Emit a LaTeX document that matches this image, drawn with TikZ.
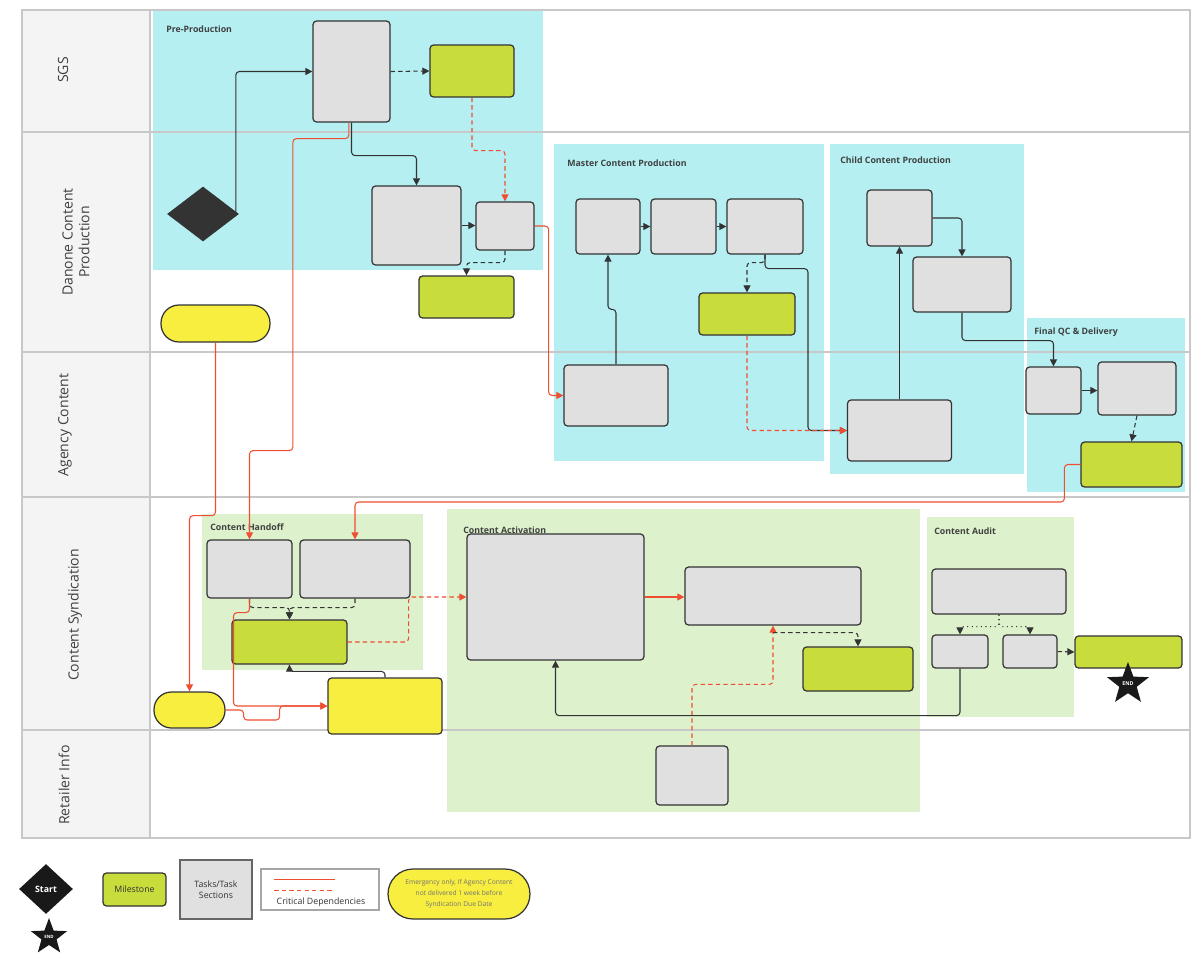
\documentclass[tikz,border=0pt]{standalone}
\usepackage{fontspec}
\setmainfont{Open Sans}
\usetikzlibrary{arrows.meta,shapes.geometric}
\definecolor{prebg}{HTML}{B5EFF2}
\definecolor{synbg}{HTML}{DDF1CC}
\definecolor{taskfill}{HTML}{E0E0E0}
\definecolor{milefill}{HTML}{C8DC3C}
\definecolor{emergfill}{HTML}{F8EE40}
\definecolor{critred}{HTML}{F04E30}
\definecolor{laneline}{HTML}{C8C8C8}
\definecolor{headfill}{HTML}{F4F4F4}

\tikzset{
  wh/.style 2 args={minimum width=#1cm, minimum height=#2cm},
  task/.style={draw=black!80, fill=taskfill, rounded corners=2pt, line width=0.7pt, inner sep=0},
  mile/.style={task, fill=milefill},
  emerg/.style={draw=black!80, fill=emergfill, line width=0.7pt, inner sep=0, rounded corners=#1},
  lanetitle/.style={rotate=90, align=center, text=black!75, font=\fontsize{8}{9.5}\selectfont},
  sectitle/.style={anchor=west, inner sep=0, text=black!75, font=\fontsize{5}{6}\selectfont\bfseries},
  legtext/.style={text=black!80, font=\fontsize{5}{6.5}\selectfont},
  dsh/.style={dash pattern=on 2.5pt off 1.8pt},
  flow/.style={draw=black!80, line width=0.6pt, rounded corners=2pt, -{Triangle[length=4pt,width=4pt]}},
  crit/.style={draw=critred, line width=0.6pt, rounded corners=2pt, -{Triangle[length=4pt,width=4pt]}}
}

\begin{document}
\begin{tikzpicture}[x=0.02cm, y=-0.02cm]
\useasboundingbox (0,0) rectangle (1198,958);

% swimlane header column
\fill[headfill] (22,10) rectangle (150,838);

% phase sections
\fill[prebg] (153,10) rectangle (543,270);
\fill[prebg] (554,144) rectangle (824,461);
\fill[prebg] (830,144) rectangle (1024,474);
\fill[prebg] (1027,318) rectangle (1185,492);
\fill[synbg] (202,514) rectangle (423,670);
\fill[synbg] (447,509) rectangle (920,812);
\fill[synbg] (927,517) rectangle (1074,717);

\node[sectitle] (tPre) at (166,29) {Pre-Production};
\node[sectitle] (tMaster) at (567,163) {Master Content Production};
\node[sectitle] (tChild) at (840,160) {Child Content Production};
\node[sectitle] (tFinal) at (1034,332) {Final QC \& Delivery};
\node[sectitle] (tHandoff) at (210,527) {Content Handoff};
\node[sectitle] (tActiv) at (463,530) {Content Activation};
\node[sectitle] (tAudit) at (934,531) {Content Audit};

% lanes
\draw[laneline, line width=0.8pt] (22,10) rectangle (1190,838);
\draw[laneline, line width=0.8pt] (150,10) -- (150,838);
\foreach \ly in {132,352,497,730}
  \draw[laneline, line width=0.8pt] (22,\ly) -- (1190,\ly);

\node[lanetitle] (lSgs) at (63,70) {SGS};
\node[lanetitle] (lDanone) at (76,242) {Danone Content\\Production};
\node[lanetitle] (lAgency) at (65,425) {Agency Content};
\node[lanetitle] (lSynd) at (75,615) {Content Syndication};
\node[lanetitle] (lRetail) at (64,785) {Retailer Info};

% pre-production
\node[diamond, fill=black!80, wh={1.44}{1.1}, inner sep=0] (start) at (203,214) {};
\node[task, wh={1.54}{2.02}] (sgsTask) at (351.5,71.5) {};
\node[mile, wh={1.68}{1.04}] (sgsMile) at (472,71) {};
\node[task, wh={1.78}{1.58}] (dcpTask1) at (416.5,225.5) {};
\node[task, wh={1.16}{0.96}] (dcpTask2) at (505,226) {};
\node[mile, wh={1.9}{0.84}] (dcpMile) at (466.5,297) {};
\node[emerg=0.36cm, wh={2.18}{0.74}] (emerg1) at (215.5,323.5) {};

% master content
\node[task, wh={1.28}{1.1}] (m1) at (608,226.5) {};
\node[task, wh={1.3}{1.1}] (m2) at (683.5,226.5) {};
\node[task, wh={1.52}{1.1}] (m3) at (765,226.5) {};
\node[mile, wh={1.92}{0.84}] (mMile) at (747,314) {};
\node[task, wh={2.08}{1.22}] (agency1) at (616,395.5) {};

% child content
\node[task, wh={1.3}{1.12}] (c1) at (899.5,218) {};
\node[task, wh={1.96}{1.1}] (c2) at (962,284.5) {};
\node[task, wh={2.08}{1.22}] (agency2) at (899.5,430.5) {};

% final qc
\node[task, wh={1.1}{0.94}] (f1) at (1053.5,390.5) {};
\node[task, wh={1.56}{1.06}] (f2) at (1137,388.5) {};
\node[mile, wh={2.02}{0.9}] (fMile) at (1131.5,464.5) {};

% handoff
\node[task, wh={1.7}{1.16}] (h1) at (249.5,569) {};
\node[task, wh={2.2}{1.16}] (h2) at (355,569) {};
\node[mile, wh={2.3}{0.88}] (hMile) at (289.5,642) {};
\node[emerg=0.35cm, wh={1.42}{0.72}] (emerg2) at (189.5,710) {};
\node[emerg=2pt, wh={2.28}{1.12}] (yellowBox) at (385,706) {};

% activation
\node[task, wh={3.54}{2.52}] (a1) at (555.5,597) {};
\node[task, wh={3.52}{1.16}] (a2) at (773,596) {};
\node[mile, wh={2.2}{0.88}] (aMile) at (858,669) {};
\node[task, wh={1.44}{1.18}] (ret1) at (692,775.5) {};

% audit
\node[task, wh={2.68}{0.9}] (au1) at (999,591.5) {};
\node[task, wh={1.12}{0.66}] (au2) at (960,651.5) {};
\node[task, wh={1.08}{0.66}] (au3) at (1030,651.5) {};
\node[mile, wh={2.14}{0.64}] (auMile) at (1128.5,652) {};
\node[star, star points=5, star point ratio=2.4, fill=black!90, minimum size=0.88cm, inner sep=0,
  text=white, font=\fontsize{3}{3}\selectfont\bfseries] (endStar) at (1128,684) {END};

% connectors
\draw[flow] ([xshift=-2pt]start.east) |- (sgsTask.west);
\draw[flow, dsh] (sgsTask.east) -- (sgsMile.west);
\draw[flow] (sgsTask.south) -- ++(0,33) -| (dcpTask1.north);
\draw[crit] ([xshift=-1.5pt]sgsTask.south) -- ++(0,16) -- ++(-56,0) -- ++(0,312) -| (h1.north);
\draw[crit, dsh] (sgsMile.south) -- ++(0,53) -| (dcpTask2.north);
\draw[flow] (dcpTask1.east) -- (dcpTask1.east -| dcpTask2.west);
\draw[flow, dsh] (dcpTask2.south) -- ++(0,12) -| (dcpMile.north);
\draw[crit] (dcpTask2.east) -- ++(14,0) |- (agency1.west);
\draw[crit] (emerg1.south) -- ++(0,173) -| (emerg2.north);

\draw[flow] (agency1.north) -- ++(0,-55) -| (m1.south);
\draw[flow] (m1.east) -- (m2.west);
\draw[flow] (m2.east) -- (m3.west);
\draw[flow] (m3.south) -- ++(0,14) -- ++(43,0) |- (agency2.west);
\draw[flow, dsh] (m3.south) -- ++(0,8) -| (mMile.north);
\draw[crit, dsh] (mMile.south) |- (agency2.west);

\draw[flow] (agency2.north) -- (c1.south);
\draw[flow] (c1.east) -| (c2.north);
\draw[flow] (c2.south) -- ++(0,28) -| (f1.north);
\draw[flow] (f1.east) -- (f1.east -| f2.west);
\draw[flow, dsh] (f2.south) -- (fMile.north);
\draw[crit] (fMile.west) -- ++(-16,0) -- ++(0,37.5) -| (h2.north);

\draw[flow, dsh] (h1.south) -- ++(0,9) -| (hMile.north);
\draw[flow, dsh] (h2.south) -- ++(0,9) -| (hMile.north);
\draw[crit] (h1.south) -- ++(0,14) -- ++(-16,0) |- (yellowBox.west);
\draw[crit] (emerg2.east) -- ++(18,0) -- ++(0,10) -- ++(36,0) |- (yellowBox.west);
\draw[flow] (yellowBox.north) -- ++(0,-6) -| (hMile.south);
\draw[crit, dsh] (hMile.east) -- ++(61,0) |- (a1.west);

\draw[crit] (a1.east) -- (a1.east -| a2.west);
\draw[crit, dsh] (ret1.north) -- ++(0,-61) -| (a2.south);
\draw[flow, dsh] ([yshift=-4pt]a2.south) -| (aMile.north);
\draw[flow] (au2.south) -- ++(0,47) -| (a1.south);
\draw[flow, dotted] (au1.south) -- ++(0,12) -| (au2.north);
\draw[flow, dotted] (au1.south) -- ++(0,12) -| (au3.north);
\draw[flow, dsh] (au3.east) -- (auMile.west);

% legend
\node[diamond, fill=black!90, wh={1.08}{1.0}, inner sep=0, text=white,
  font=\fontsize{5}{6}\selectfont\bfseries] (legStart) at (46,889) {Start};
\node[star, star points=5, star point ratio=2.4, fill=black!90, minimum size=0.76cm, inner sep=0,
  text=white, font=\fontsize{2.5}{3}\selectfont\bfseries] (legEnd) at (49,937) {END};
\node[mile, wh={1.26}{0.66}, legtext] (legMile) at (134.5,889.5) {Milestone};
\node[draw=black!60, fill=taskfill, line width=1pt, wh={1.44}{1.18}, align=center, legtext] (legTask)
  at (216,889.5) {Tasks/Task\\Sections};
\node[draw=black!35, fill=white, line width=0.8pt, wh={2.36}{0.82}] (legCrit) at (320,889.5) {};
\draw[critred, line width=0.6pt] ([shift={(14,11)}]legCrit.north west) -- ++(61,0);
\draw[critred, line width=0.6pt, dsh] ([shift={(14,22)}]legCrit.north west) -- ++(58,0);
\node[legtext] (legCritText) at (321,902) {Critical Dependencies};
\node[emerg=0.5cm, wh={2.84}{1.0}, align=center, text=black!55,
  font=\fontsize{3.8}{6.2}\selectfont] (legEmerg) at (459,894)
  {Emergency only, If Agency Content\\not delivered 1 week before\\Syndication Due Date};
\end{tikzpicture}
\end{document}
